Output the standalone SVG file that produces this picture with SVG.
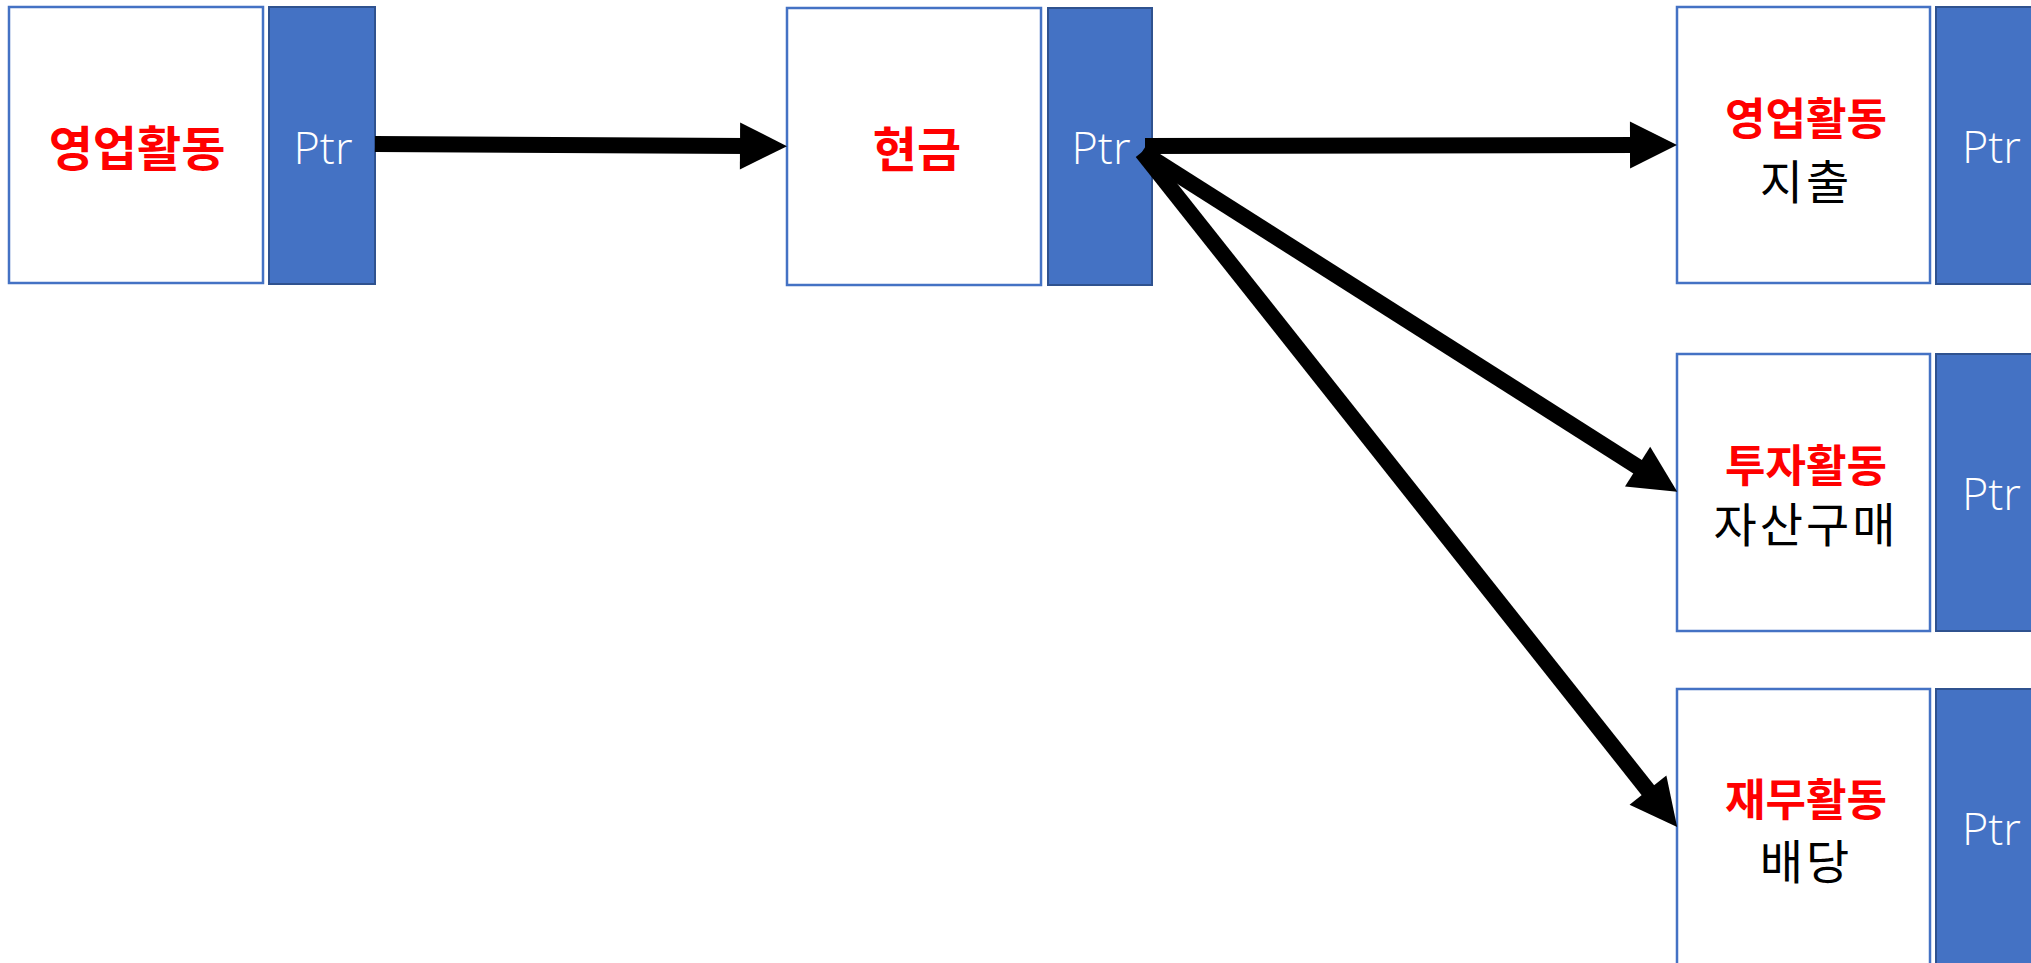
<svg xmlns="http://www.w3.org/2000/svg" width="2031" height="963" viewBox="0 0 2031 963">
<style>
.box{fill:#ffffff;stroke:#4472C4;stroke-width:2.5}
.ptr{fill:#4472C4;stroke:#2F528F;stroke-width:2}
.ptrt{font-family:"Open Sans","Noto Sans",sans-serif;font-size:45px;fill:#ffffff;font-weight:300}
.red{font-family:"Noto Sans CJK KR",sans-serif;font-weight:bold;fill:#FF0000;text-anchor:middle;dominant-baseline:central}
.blk{font-family:"Noto Sans CJK KR",sans-serif;font-weight:normal;fill:#000000;text-anchor:middle;dominant-baseline:central;font-size:47px;letter-spacing:3px}
.conn{stroke:#000000;stroke-width:16;fill:none;marker-end:url(#ah)}
</style>
<defs>
<marker id="ah" markerUnits="userSpaceOnUse" markerWidth="47" markerHeight="47" refX="7" refY="23.5" orient="auto" overflow="visible">
<path d="M0,0 L47,23.5 L0,47 Z" fill="#000000"/>
</marker>
</defs>
<rect width="2031" height="963" fill="#ffffff"/>
<g id="node-operating">
<rect class="box" x="9" y="7" width="254" height="276"/>
<rect class="ptr" x="269" y="7" width="106" height="277"/>
<text class="red" x="137" y="145" font-size="48">영업활동</text>
<text class="ptrt" x="323" y="164" text-anchor="middle">Ptr</text>
</g>
<g id="node-cash">
<rect class="box" x="787" y="8" width="254" height="277"/>
<rect class="ptr" x="1048" y="8" width="104" height="277"/>
<text class="red" x="917" y="146" font-size="48">현금</text>
<text class="ptrt" x="1101" y="164" text-anchor="middle">Ptr</text>
</g>
<g id="node-op-expense">
<rect class="box" x="1677" y="7" width="253" height="276"/>
<rect class="ptr" x="1936" y="7" width="110" height="277"/>
<text class="red" x="1806" y="116" font-size="44">영업활동</text>
<text class="blk" x="1806" y="178">지출</text>
<text class="ptrt" x="1962" y="163">Ptr</text>
</g>
<g id="node-investing">
<rect class="box" x="1677" y="354" width="253" height="277"/>
<rect class="ptr" x="1936" y="354" width="110" height="277"/>
<text class="red" x="1806" y="463" font-size="44">투자활동</text>
<text class="blk" x="1806" y="521">자산구매</text>
<text class="ptrt" x="1962" y="510">Ptr</text>
</g>
<g id="node-financing">
<rect class="box" x="1677" y="689" width="253" height="290"/>
<rect class="ptr" x="1936" y="689" width="110" height="290"/>
<text class="red" x="1806" y="797" font-size="44">재무활동</text>
<text class="blk" x="1806" y="858">배당</text>
<text class="ptrt" x="1962" y="845">Ptr</text>
</g>
<g id="connectors">
<line class="conn" x1="375" y1="144" x2="747" y2="146"/>
<line class="conn" x1="1145" y1="146" x2="1637" y2="145"/>
<line class="conn" x1="1142" y1="152" x2="1643.5" y2="470.4"/>
<line class="conn" x1="1142" y1="152" x2="1652.3" y2="795.7"/>
</g>
</svg>
